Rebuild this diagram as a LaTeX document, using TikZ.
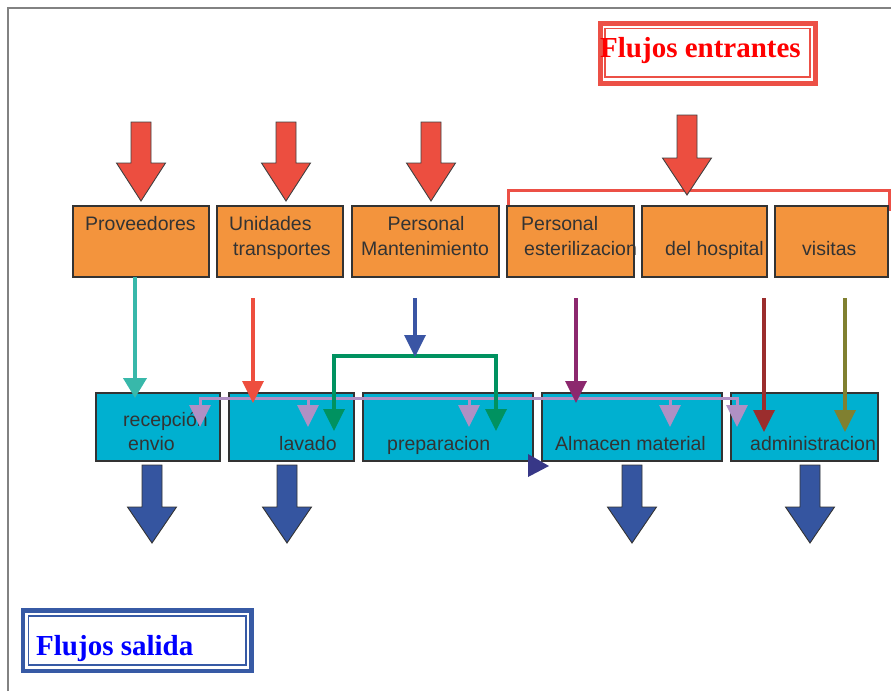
\documentclass[tikz,border=0pt]{standalone}
\usepackage{fontspec}
\setmainfont{Liberation Sans}
\newfontfamily\titlefont{Liberation Serif}
\usetikzlibrary{arrows.meta}
\definecolor{orangefill}{RGB}{243,148,61}
\definecolor{cyanfill}{RGB}{0,176,208}
\definecolor{redarrow}{RGB}{236,78,64}
\definecolor{redframe}{RGB}{236,80,70}
\definecolor{bluearrow}{RGB}{53,85,160}
\definecolor{blueframe}{RGB}{55,90,165}
\definecolor{tealline}{RGB}{56,184,170}
\definecolor{redline}{RGB}{238,78,62}
\definecolor{blueline}{RGB}{58,85,164}
\definecolor{greenline}{RGB}{0,146,96}
\definecolor{purpleline}{RGB}{140,40,110}
\definecolor{darkredline}{RGB}{155,45,45}
\definecolor{oliveline}{RGB}{128,128,48}
\definecolor{lavline}{RGB}{176,144,196}
\definecolor{navytri}{RGB}{55,55,135}
\definecolor{boxtext}{RGB}{51,51,51}
\definecolor{pagegray}{RGB}{130,130,130}
\newcommand\blockarrow[5]{%
  \filldraw[#5] (#1-10,#2) -- (#1+10,#2) -- (#1+10,#3) -- (#1+24.5,#3) -- (#1,#4) -- (#1-24.5,#3) -- (#1-10,#3) -- cycle;}
\tikzset{
  obox/.style={draw=black!80, line width=1.2pt, fill=orangefill, inner sep=0pt},
  cbox/.style={draw=black!80, line width=1.2pt, fill=cyanfill, inner sep=0pt},
  btext/.style={font=\fontsize{19.5}{22}\selectfont, text=boxtext, inner sep=0pt, anchor=base west},
  conn/.style={line width=3.5pt, -{Triangle[width=21pt,length=22pt]}},
  redblock/.style={fill=redarrow, draw=black!75, line width=0.9pt},
  blueblock/.style={fill=bluearrow, draw=black!80, line width=0.9pt},
}
\begin{document}
\begin{tikzpicture}[x=1pt,y=-1pt]
\useasboundingbox (0,0) rectangle (891,691);
% page border
\draw[pagegray, line width=1.5pt] (8,691) -- (8,8) -- (891,8);

% title frames
\draw[redframe, line width=4.5pt] (600.5,23.5) rectangle (815.5,83.5);
\draw[redframe, line width=1.5pt] (605,28.5) rectangle (810,77);
\node[font=\titlefont\bfseries\fontsize{29}{32}\selectfont, text={rgb,255:red,255;green,0;blue,0}, anchor=base west, inner sep=0pt] (tin) at (600,57) {Flujos entrantes};

\draw[blueframe, line width=4.5pt] (23,610.5) rectangle (251.5,671);
\draw[blueframe, line width=1.5pt] (28.5,616) rectangle (246,665);
\node[font=\titlefont\bfseries\fontsize{29}{32}\selectfont, text={rgb,255:red,0;green,0;blue,255}, anchor=base west, inner sep=0pt] (tout) at (36,655) {Flujos salida};

% red bracket
\draw[redframe, line width=3pt] (508,211) -- (508,190) -- (889.5,190) -- (889.5,211);

% top block arrows
\blockarrow{141}{122}{163}{201}{redblock}
\blockarrow{286}{122}{163}{201}{redblock}
\blockarrow{431}{122}{163}{201}{redblock}
\blockarrow{687}{115}{158}{195}{redblock}

% orange boxes
\node[obox, minimum width=136pt, minimum height=71pt] (prov) at (141,241.5) {};
\node[obox, minimum width=126pt, minimum height=71pt] (unid) at (280,241.5) {};
\node[obox, minimum width=147pt, minimum height=71pt] (pman) at (425.5,241.5) {};
\node[obox, minimum width=127pt, minimum height=71pt] (pest) at (570.5,241.5) {};
\node[obox, minimum width=125pt, minimum height=71pt] (hosp) at (704.5,241.5) {};
\node[obox, minimum width=113pt, minimum height=71pt] (visi) at (831.5,241.5) {};

\node[btext] (tprov) at (85,230) {Proveedores};
\node[btext] (tunid1) at (229,230) {Unidades};
\node[btext] (tunid2) at (233,255) {transportes};
\node[btext, anchor=base] (tpman1) at (426,230) {Personal};
\node[btext, anchor=base] (tpman2) at (425,255) {Mantenimiento};
\node[btext] (tpest1) at (521,230) {Personal};
\node[btext] (tpest2) at (524,255) {esterilizacion};
\node[btext] (thosp) at (665,255) {del hospital};
\node[btext] (tvisi) at (802,255) {visitas};

% cyan boxes
\node[cbox, minimum width=124pt, minimum height=68pt] (rece) at (158,427) {};
\node[cbox, minimum width=125pt, minimum height=68pt] (lava) at (291.5,427) {};
\node[cbox, minimum width=170pt, minimum height=68pt] (prep) at (448,427) {};
\node[cbox, minimum width=180pt, minimum height=68pt] (alma) at (632,427) {};
\node[cbox, minimum width=147pt, minimum height=68pt] (admi) at (804.5,427) {};

\node[btext] (trece1) at (123,426) {recepción};
\node[btext] (trece2) at (128,450) {envio};
\node[btext] (tlava) at (279,450) {lavado};
\node[btext] (tprep) at (387,450) {preparacion};
\node[btext] (talma) at (555,450) {Almacen material};
\node[btext] (tadmi) at (750,450) {administracion};

% connector coordinates
\coordinate (tealS) at (135,277);
\coordinate (tealE) at (135,398);
\coordinate (redS) at (253,298);
\coordinate (redE) at (253,403);
\coordinate (blueS) at (415,298);
\coordinate (blueE) at (415,357);
\coordinate (grL) at (334,431);
\coordinate (grLt) at (334,356);
\coordinate (grRt) at (496,356);
\coordinate (grR) at (496,431);
\coordinate (purS) at (576,298);
\coordinate (purE) at (576,403);
\coordinate (drS) at (764,298);
\coordinate (drE) at (764,432);
\coordinate (olS) at (845,298);
\coordinate (olE) at (845,432);
\coordinate (lavL) at (200,427);
\coordinate (lavLt) at (200,398);
\coordinate (lavRt) at (737,398);
\coordinate (lavR) at (737,427);
\coordinate (lav1t) at (308,398);
\coordinate (lav1) at (308,427);
\coordinate (lav2t) at (469,398);
\coordinate (lav2) at (469,427);
\coordinate (lav3t) at (670,398);
\coordinate (lav3) at (670,427);

% connectors
\draw[conn, tealline, line width=4pt, -{Triangle[width=23pt,length=20pt]}] (tealS) -- (tealE);
\draw[conn, lavline, line width=3pt, {Triangle[width=21pt,length=22pt]}-{Triangle[width=21pt,length=22pt]}] (lavL) -- (lavLt) -- (lavRt) -- (lavR);
\draw[conn, lavline, line width=3pt] (lav1t) -- (lav1);
\draw[conn, lavline, line width=3pt] (lav2t) -- (lav2);
\draw[conn, lavline, line width=3pt] (lav3t) -- (lav3);
\draw[conn, redline] (redS) -- (redE);
\draw[conn, greenline, {Triangle[width=21pt,length=22pt]}-{Triangle[width=21pt,length=22pt]}] (grL) -- (grLt) -- (grRt) -- (grR);
\draw[conn, blueline] (blueS) -- (blueE);
\draw[conn, purpleline] (purS) -- (purE);
\draw[conn, darkredline] (drS) -- (drE);
\draw[conn, oliveline] (olS) -- (olE);

% lone navy arrowhead
\fill[navytri] (528,454) -- (549,466) -- (528,477) -- cycle;

% bottom block arrows
\blockarrow{152}{465}{507}{543}{blueblock}
\blockarrow{287}{465}{507}{543}{blueblock}
\blockarrow{632}{465}{507}{543}{blueblock}
\blockarrow{810}{465}{507}{543}{blueblock}
\end{tikzpicture}
\end{document}
